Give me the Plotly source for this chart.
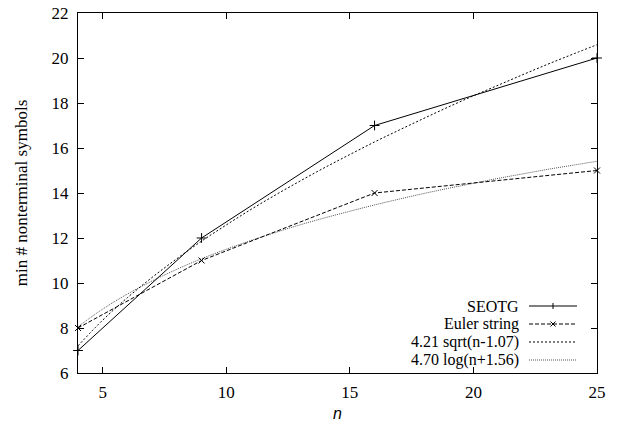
import plotly.graph_objects as go

# measured data points
n_pts = [4, 9, 16, 25]
seotg = [7, 12, 17, 20]
euler = [8, 11, 14, 15]

# fitted curves, values at integer n
n_fit = list(range(4, 26))
sqrt_fit = [7.21, 8.35, 9.35, 10.25, 11.08, 11.86, 12.58, 13.27, 13.92, 14.54, 15.14,
            15.71, 16.27, 16.80, 17.32, 17.83, 18.32, 18.79, 19.26, 19.72, 20.16, 20.59]
log_fit = [8.06, 8.84, 9.51, 10.09, 10.61, 11.08, 11.50, 11.89, 12.25, 12.59, 12.90,
           13.19, 13.47, 13.73, 13.98, 14.21, 14.43, 14.65, 14.85, 15.05, 15.23, 15.41]

legend_names = ["SEOTG", "Euler string", "4.21 sqrt(n-1.07)", "4.70 log(n+1.56)"]
x_ticks = [5, 10, 15, 20, 25]
y_ticks = [6, 8, 10, 12, 14, 16, 18, 20, 22]

SERIF = "Times New Roman, Liberation Serif, DejaVu Serif, serif"

fig = go.Figure()
fig.add_trace(go.Scatter(x=n_fit, y=log_fit, mode="lines", line_shape="spline",
                         line=dict(color="#555555", width=1, dash="1px,1px"), showlegend=False))
fig.add_trace(go.Scatter(x=n_fit, y=sqrt_fit, mode="lines", line_shape="spline",
                         line=dict(color="black", width=1, dash="2px,2px"), showlegend=False))
fig.add_trace(go.Scatter(x=n_pts, y=euler, mode="lines+markers",
                         line=dict(color="black", width=1, dash="4px,2px"),
                         marker=dict(symbol="x-thin", size=6, line=dict(color="black", width=1)),
                         showlegend=False, cliponaxis=False))
fig.add_trace(go.Scatter(x=n_pts, y=seotg, mode="lines+markers",
                         line=dict(color="black", width=1),
                         marker=dict(symbol="cross-thin", size=7, line=dict(color="black", width=1)),
                         showlegend=False, cliponaxis=False))

# manual gnuplot-style legend (text right, sample at right)
W, H = 618, 426
L, R, T, B = 78, 21, 13, 53
pw, ph = W - L - R, H - T - B
def px(x):
    return (x - L) / pw
def py(y):
    return 1 - (y - T) / ph

rows_y = [306, 324, 342, 360]
styles = [dict(color="black", width=1),
          dict(color="black", width=1, dash="4px,2px"),
          dict(color="black", width=1, dash="2px,2px"),
          dict(color="#555555", width=1, dash="1px,1px")]
shapes = []
annotations = []
for name, yy, st in zip(legend_names, rows_y, styles):
    annotations.append(dict(x=px(520), y=py(yy), xref="paper", yref="paper", text=name,
                            showarrow=False, xanchor="right", yanchor="middle", borderpad=0,
                            font=dict(family=SERIF, size=16, color="black")))
    shapes.append(dict(type="line", xref="paper", yref="paper", x0=px(529), x1=px(577),
                       y0=py(yy), y1=py(yy), line=st))
# legend markers
cx = px(553)
cy = py(rows_y[0])
dy = 3 / ph
shapes.append(dict(type="line", xref="paper", yref="paper", x0=cx, x1=cx, y0=cy - dy, y1=cy + dy,
                   line=dict(color="black", width=1)))
cy2 = py(rows_y[1])
d3x, d3y = 2.5 / pw, 2.5 / ph
shapes.append(dict(type="line", xref="paper", yref="paper", x0=cx - d3x, x1=cx + d3x,
                   y0=cy2 - d3y, y1=cy2 + d3y, line=dict(color="black", width=1)))
shapes.append(dict(type="line", xref="paper", yref="paper", x0=cx - d3x, x1=cx + d3x,
                   y0=cy2 + d3y, y1=cy2 - d3y, line=dict(color="black", width=1)))

axis_common = dict(showgrid=False, zeroline=False, showline=True, linecolor="black", linewidth=1,
                   mirror="ticks", ticks="inside", ticklen=6, tickcolor="black", tickwidth=1,
                   tickfont=dict(family=SERIF, size=17, color="black"), automargin=False)
fig.update_layout(
    width=W, height=H,
    margin=dict(l=L, r=R, t=T, b=B, autoexpand=False),
    paper_bgcolor="white", plot_bgcolor="white",
    xaxis=dict(range=[4, 25], tickvals=x_ticks, ticktext=[str(v) for v in x_ticks],
               ticklabelstandoff=4,
               title=dict(text="<i>n</i>", font=dict(family="Liberation Sans, Arial, sans-serif",
                                                     size=16, color="black"), standoff=6),
               **axis_common),
    yaxis=dict(range=[6, 22], tickvals=y_ticks, ticktext=[str(v) for v in y_ticks],
               ticklabelstandoff=5,
               title=dict(text="min # nonterminal symbols",
                          font=dict(family=SERIF, size=17, color="black"), standoff=19),
               **axis_common),
    shapes=shapes, annotations=annotations,
    showlegend=False,
)
fig.write_html("out.html", config={"displayModeBar": False},
               post_script="document.body.style.margin='0';")
